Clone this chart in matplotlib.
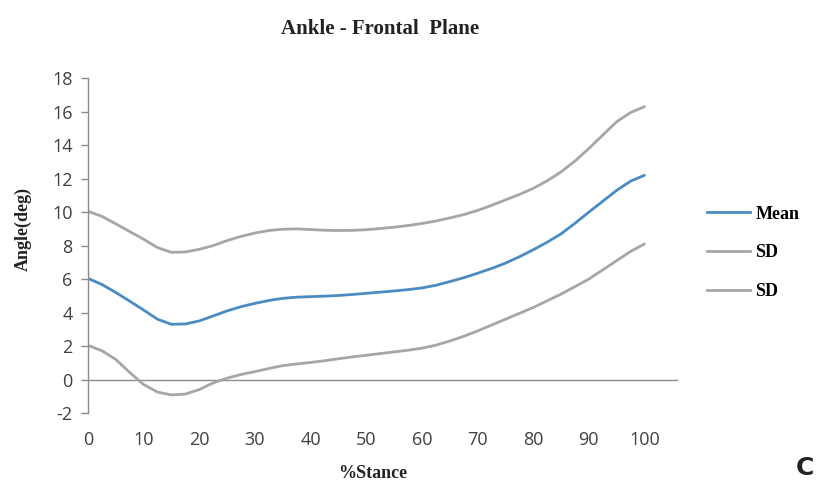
import matplotlib
matplotlib.use("Agg")
import matplotlib.pyplot as plt
from matplotlib.lines import Line2D

plt.rcParams['axes.unicode_minus'] = False

# values every 2.5 % of stance
stance = [0, 2.5, 5, 7.5, 10, 12.5, 15, 17.5, 20, 22.5, 25, 27.5, 30, 32.5, 35, 37.5,
          40, 42.5, 45, 47.5, 50, 52.5, 55, 57.5, 60, 62.5, 65, 67.5, 70, 72.5, 75,
          77.5, 80, 82.5, 85, 87.5, 90, 92.5, 95, 97.5, 100]
mean = [6.04, 5.68, 5.2, 4.68, 4.15, 3.6, 3.3, 3.32, 3.5, 3.8, 4.1, 4.35, 4.55, 4.72, 4.85, 4.92,
        4.95, 4.98, 5.02, 5.08, 5.15, 5.22, 5.29, 5.37, 5.47, 5.63, 5.85, 6.08, 6.35, 6.63, 6.95,
        7.33, 7.75, 8.2, 8.7, 9.33, 10.0, 10.65, 11.3, 11.85, 12.2]
sd_upper = [10.05, 9.75, 9.3, 8.84, 8.38, 7.88, 7.6, 7.62, 7.78, 8.0, 8.3, 8.55, 8.75, 8.9, 8.98, 9.0,
            8.96, 8.92, 8.9, 8.91, 8.95, 9.02, 9.1, 9.2, 9.32, 9.47, 9.65, 9.85, 10.1, 10.4, 10.73,
            11.05, 11.42, 11.87, 12.4, 13.05, 13.8, 14.6, 15.4, 15.95, 16.3]
sd_lower = [2.04, 1.72, 1.2, 0.42, -0.3, -0.75, -0.92, -0.87, -0.6, -0.2, 0.08, 0.3, 0.47, 0.66, 0.83, 0.93,
            1.02, 1.12, 1.24, 1.35, 1.45, 1.55, 1.65, 1.75, 1.87, 2.05, 2.3, 2.58, 2.9, 3.25, 3.6,
            3.95, 4.3, 4.7, 5.1, 5.55, 6.0, 6.55, 7.1, 7.65, 8.1]

xticks = list(range(0, 101, 10))
yticks = list(range(-2, 19, 2))

blue = '#4a8bc2'
grey = '#a6a6a6'
axis_grey = '#8c8c8c'
serif = 'Liberation Serif'
sans = 'Open Sans'

fig = plt.figure(figsize=(8.17, 4.88), dpi=100)
ax = fig.add_axes([0.1077, 0.1537, 0.722, 0.686])

ax.plot(stance, sd_upper, color=grey, lw=2.0, solid_capstyle='round', solid_joinstyle='round')
ax.plot(stance, sd_lower, color=grey, lw=2.0, solid_capstyle='round', solid_joinstyle='round')
ax.plot(stance, mean, color=blue, lw=2.0, solid_capstyle='round', solid_joinstyle='round')
ax.axhline(0, color=axis_grey, lw=1.0, zorder=0)

ax.set_xlim(0, 106)
ax.set_ylim(-2, 18)
ax.set_xticks(xticks)
ax.set_yticks(yticks)

for s in ['top', 'right', 'bottom']:
    ax.spines[s].set_visible(False)
ax.spines['left'].set_color(axis_grey)
ax.spines['left'].set_linewidth(1.0)

ax.tick_params(axis='y', direction='out', length=5, width=1, color=axis_grey,
               labelsize=13, labelcolor='#404040', pad=6)
ax.tick_params(axis='x', length=0, labelsize=13, labelcolor='#404040', pad=13)
for lab in ax.get_xticklabels() + ax.get_yticklabels():
    lab.set_family(sans)

fig.text(0.465, 0.94, 'Ankle - Frontal  Plane', ha='center', va='center',
         fontsize=15, fontweight='bold', family=serif, color='#222222')
ax.set_xlabel('%Stance', fontsize=13, fontweight='bold', family=serif, color='#222222')
ax.xaxis.set_label_coords(0.483, -0.155)
ax.set_ylabel('Angle(deg)', fontsize=13, fontweight='bold', family=serif, color='#222222')
ax.yaxis.set_label_coords(-0.095, 0.55)

handles = [Line2D([0], [0], color=blue, lw=2.0),
           Line2D([0], [0], color=grey, lw=2.0),
           Line2D([0], [0], color=grey, lw=2.0)]
fig.legend(handles, ['Mean', 'SD', 'SD'], loc='center left',
           bbox_to_anchor=(0.845, 0.482), frameon=False, handlelength=2.4,
           handletextpad=0.3, labelspacing=1.2,
           prop={'family': serif, 'weight': 'bold', 'size': 13})

fig.text(0.985, 0.04, 'C', ha='center', va='center', fontsize=18,
         fontweight='bold', family='DejaVu Sans', color='#222222')

fig.savefig('out.png', dpi=100)
